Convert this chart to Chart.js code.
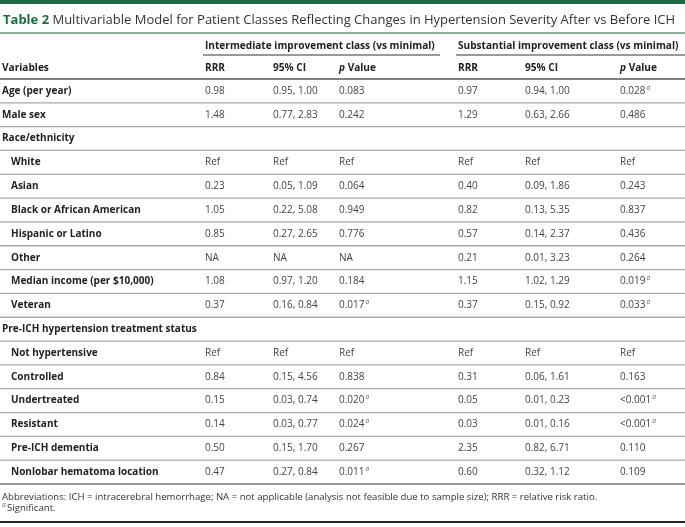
<!DOCTYPE html>
<html>
<head>
<meta charset="utf-8">
<script src="https://cdn.jsdelivr.net/npm/chart.js@4/dist/chart.umd.min.js"></script>
<style>
  html, body { margin: 0; padding: 0; background: #fff; }
  #wrap { width: 685px; height: 527px; }
</style>
</head>
<body>
<div id="wrap"><canvas id="tableChart" width="685" height="527"></canvas></div>
<script>
// table data
const rowLabels = [
    'Age (per year)', 'Male sex', 'Race/ethnicity', 'White', 'Asian',
    'Black or African American', 'Hispanic or Latino', 'Other',
    'Median income (per $10,000)', 'Veteran', 'Pre-ICH hypertension treatment status',
    'Not hypertensive', 'Controlled', 'Undertreated', 'Resistant',
    'Pre-ICH dementia', 'Nonlobar hematoma location'
];
const indented = [0, 0, 0, 1, 1, 1, 1, 1, 1, 1, 0, 1, 1, 1, 1, 1, 1];

const intRRR = ['0.98', '1.48', '', 'Ref', '0.23', '1.05', '0.85', 'NA', '1.08', '0.37', '', 'Ref', '0.84', '0.15', '0.14', '0.50', '0.47'];
const intCI  = ['0.95, 1.00', '0.77, 2.83', '', 'Ref', '0.05, 1.09', '0.22, 5.08', '0.27, 2.65', 'NA', '0.97, 1.20', '0.16, 0.84', '', 'Ref', '0.15, 4.56', '0.03, 0.74', '0.03, 0.77', '0.15, 1.70', '0.27, 0.84'];
const intP   = ['0.083', '0.242', '', 'Ref', '0.064', '0.949', '0.776', 'NA', '0.184', '0.017', '', 'Ref', '0.838', '0.020', '0.024', '0.267', '0.011'];
const intSig = [0, 0, 0, 0, 0, 0, 0, 0, 0, 1, 0, 0, 0, 1, 1, 0, 1];

const subRRR = ['0.97', '1.29', '', 'Ref', '0.40', '0.82', '0.57', '0.21', '1.15', '0.37', '', 'Ref', '0.31', '0.05', '0.03', '2.35', '0.60'];
const subCI  = ['0.94, 1.00', '0.63, 2.66', '', 'Ref', '0.09, 1.86', '0.13, 5.35', '0.14, 2.37', '0.01, 3.23', '1.02, 1.29', '0.15, 0.92', '', 'Ref', '0.06, 1.61', '0.01, 0.23', '0.01, 0.16', '0.82, 6.71', '0.32, 1.12'];
const subP   = ['0.028', '0.486', '', 'Ref', '0.243', '0.837', '0.436', '0.264', '0.019', '0.033', '', 'Ref', '0.163', '<0.001', '<0.001', '0.110', '0.109'];
const subSig = [1, 0, 0, 0, 0, 0, 0, 0, 1, 1, 0, 0, 0, 1, 1, 0, 0];

const groupLabels = ['Intermediate improvement class (vs minimal)', 'Substantial improvement class (vs minimal)'];
const columnLabels = ['RRR', '95% CI', 'p Value'];

const titleBold = 'Table 2';
const titleText = 'Multivariable Model for Patient Classes Reflecting Changes in Hypertension Severity After vs Before ICH';
const footnotes = [
    'Abbreviations: ICH = intracerebral hemorrhage; NA = not applicable (analysis not feasible due to sample size); RRR = relative risk ratio.',
    'Significant.'
];

// layout (pixels on the linear x axis)
const COL_X = [205, 273, 339, 458, 525, 620];
const GROUP_X = [[203, 440], [456, 685]];
const FONT = '"Open Sans", "DejaVu Sans", sans-serif';

function drawSup(ctx, x, y) {
    ctx.save();
    ctx.font = 'italic 6.5px ' + FONT;
    ctx.fillStyle = '#666';
    ctx.textBaseline = 'middle';
    ctx.fillText('a', x + 1, y - 3);
    ctx.restore();
}

function hLine(ctx, x1, x2, y, color, w) {
    ctx.save();
    ctx.strokeStyle = color;
    ctx.lineWidth = w;
    ctx.beginPath();
    ctx.moveTo(x1, y);
    ctx.lineTo(x2, y);
    ctx.stroke();
    ctx.restore();
}

const tablePlugin = {
    id: 'tablePlugin',
    afterDraw(chart) {
        const ctx = chart.ctx;
        const xs = chart.scales.x;
        const ys = chart.scales.y;
        const band = ys.getPixelForValue(1) - ys.getPixelForValue(0);
        const left = xs.getPixelForValue(0);
        const right = xs.getPixelForValue(685);
        const top = ys.getPixelForValue(0) - band / 2;
        const colPx = COL_X.map(v => xs.getPixelForValue(v));

        ctx.save();
        ctx.textBaseline = 'middle';

        // top bar + title
        ctx.fillStyle = '#1c6a44';
        ctx.fillRect(left, 0, right - left, 4);
        ctx.font = 'bold 13px ' + FONT;
        ctx.fillStyle = '#1c6a44';
        ctx.fillText(titleBold, 3, 20);
        const tw = ctx.measureText(titleBold + ' ').width;
        ctx.font = '13px ' + FONT;
        ctx.fillStyle = '#333';
        ctx.fillText(titleText, 3 + tw, 20);
        hLine(ctx, left, right, 33, '#5c9c78', 1.5);

        // header rows
        ctx.font = 'bold 10.1px ' + FONT;
        ctx.fillStyle = '#222';
        groupLabels.forEach((g, i) => {
            ctx.fillText(g, colPx[i * 3], 46);
            hLine(ctx, xs.getPixelForValue(GROUP_X[i][0]), xs.getPixelForValue(GROUP_X[i][1]), 55, '#777', 1.3);
        });
        ctx.fillText('Variables', 2, 68);
        colPx.forEach((x, i) => {
            const lbl = columnLabels[i % 3];
            if (lbl === 'p Value') {
                ctx.font = 'italic bold 10.1px ' + FONT;
                ctx.fillText('p', x, 68);
                const pw = ctx.measureText('p ').width;
                ctx.font = 'bold 10.1px ' + FONT;
                ctx.fillText('Value', x + pw, 68);
            } else {
                ctx.fillText(lbl, x, 68);
            }
        });
        hLine(ctx, left, right, top, '#555', 1.5);

        // body rows
        const cols = [intRRR, intCI, intP, subRRR, subCI, subP];
        rowLabels.forEach((label, r) => {
            const y = ys.getPixelForValue(r);
            ctx.font = 'bold 10px ' + FONT;
            ctx.fillStyle = '#222';
            ctx.fillText(label, indented[r] ? 11 : 2, y);
            ctx.font = '10px ' + FONT;
            ctx.fillStyle = '#444';
            cols.forEach((col, c) => {
                const v = col[r];
                if (!v) return;
                ctx.fillText(v, colPx[c], y);
                const sig = c === 2 ? intSig[r] : c === 5 ? subSig[r] : 0;
                if (sig) drawSup(ctx, colPx[c] + ctx.measureText(v).width, y);
            });
            const last = r === rowLabels.length - 1;
            hLine(ctx, left, right, y + band / 2, last ? '#999' : '#aaa', last ? 2 : 1.3);
        });

        // footnotes
        const bottom = ys.getPixelForValue(rowLabels.length - 1) + band / 2;
        ctx.font = '9.6px ' + FONT;
        ctx.fillStyle = '#333';
        ctx.fillText(footnotes[0], 2, bottom + 13);
        drawSup(ctx, 1, bottom + 24);
        ctx.fillText(footnotes[1], 7, bottom + 24);
        hLine(ctx, left, right, 522, '#222', 2);

        ctx.restore();
    }
};

new Chart(document.getElementById('tableChart'), {
    type: 'bar',
    data: {
        labels: rowLabels,
        datasets: [{ data: rowLabels.map(() => null) }]
    },
    options: {
        indexAxis: 'y',
        responsive: false,
        animation: false,
        layout: { padding: { top: 79, bottom: 43, left: 0, right: 0 } },
        plugins: { legend: { display: false }, tooltip: { enabled: false } },
        scales: {
            x: { type: 'linear', min: 0, max: 685, display: false },
            y: { type: 'category', offset: true, display: false }
        }
    },
    plugins: [tablePlugin]
});
</script>
</body>
</html>
